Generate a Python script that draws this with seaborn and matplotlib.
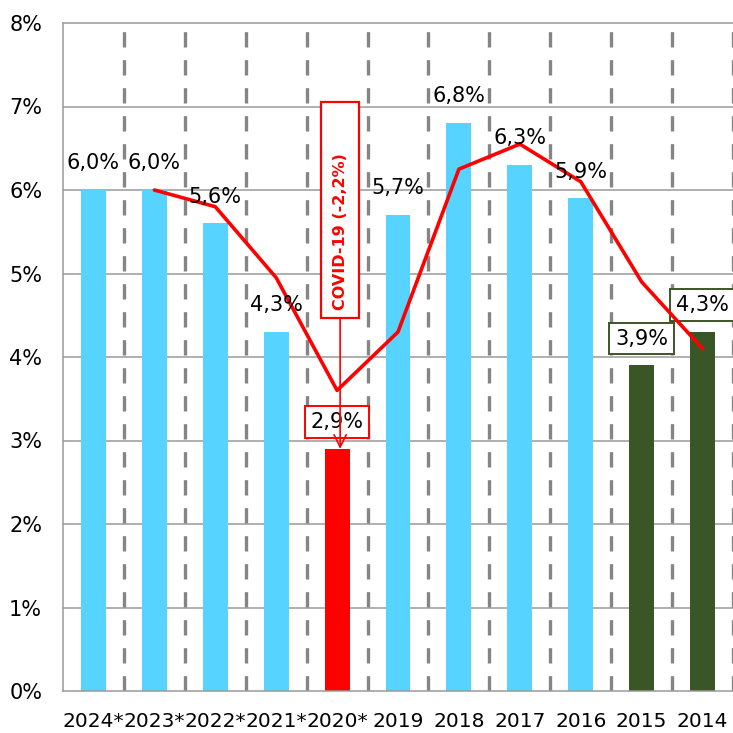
import matplotlib
matplotlib.use("Agg")
import matplotlib.pyplot as plt
import numpy as np
import pandas as pd
import seaborn as sns
from matplotlib.patches import Rectangle

# Values
years = ["2024*", "2023*", "2022*", "2021*", "2020*", "2019", "2018", "2017", "2016", "2015", "2014"]
growth = [6.0, 6.0, 5.6, 4.3, 2.9, 5.7, 6.8, 6.3, 5.9, 3.9, 4.3]
bar_colors = ["#57D3FF"] * 4 + ["#FF0000"] + ["#57D3FF"] * 4 + ["#3B5626"] * 2

line_years = years[1:]
line_vals = [6.0, 5.8, 4.95, 3.6, 4.3, 6.25, 6.55, 6.1, 4.9, 4.1]

covid_text = "COVID-19 (-2,2%)"

sns.set_style("white")
plt.rcParams["font.family"] = ["DejaVu Sans"]
plt.rcParams["text.color"] = "black"
plt.rcParams["xtick.color"] = "black"
plt.rcParams["ytick.color"] = "black"

df = pd.DataFrame({"year": years, "growth": growth})

fig = plt.figure(figsize=(7.33, 7.33), dpi=100)
ax = fig.add_axes([63 / 733, 42 / 733, 670 / 733, 668 / 733])

# horizontal grid + dashed separators between categories
for yv in range(1, 9):
    ax.axhline(yv, color="#9A9A9A", lw=1.1, zorder=0, clip_on=False)
for xv in np.arange(0.5, len(years), 1.0):
    ax.axvline(xv, color="#858585", lw=2.4, ls=(0, (4.6, 3.8)), zorder=0)

sns.barplot(data=df, x="year", y="growth", hue="year", palette=bar_colors,
            width=0.41, saturation=1, legend=False, linewidth=0, ax=ax, zorder=2)

# red trend line
line_x = [years.index(y) for y in line_years]
sns.lineplot(x=line_x, y=line_vals, color="#FF0000", lw=2.6, ax=ax, zorder=5)

# value labels
boxed = {"2020*": "#FF0000", "2015": "#3B5626", "2014": "#3B5626"}
for i, (yr, val) in enumerate(zip(years, growth)):
    txt = f"{val:.1f}%".replace(".", ",")
    if yr in boxed:
        ax.text(i, val + 0.32, txt, ha="center", va="center", fontsize=15, zorder=4,
                bbox=dict(boxstyle="square,pad=0.28", fc="white", ec=boxed[yr], lw=1.4))
    else:
        ax.text(i, val + 0.32, txt, ha="center", va="center", fontsize=15, zorder=6)

# COVID annotation box with arrow
cx = years.index("2020*") + 0.05
ax.add_patch(Rectangle((cx - 0.31, 4.47), 0.62, 2.58, fc="white", ec="#FF0000",
                       lw=1.6, zorder=4))
ax.text(cx, 5.5, covid_text, rotation=90, ha="center", va="center", color="#FF0000",
        fontsize=11.5, fontweight="bold", zorder=5)
ax.annotate("", xy=(cx, 2.9), xytext=(cx, 4.47),
            arrowprops=dict(arrowstyle="->", color="#FF0000", lw=1.2,
                            mutation_scale=22, shrinkA=0, shrinkB=0), zorder=7)

ax.set_xlim(-0.5, len(years) - 0.5)
ax.set_ylim(0, 8)
ax.set_yticks(range(0, 9))
ax.set_yticklabels([f"{v}%" for v in range(0, 9)])
ax.set_xticks(np.arange(-0.5, len(years), 1.0), minor=False)
ax.set_xticklabels([])
ax.set_xticks(range(len(years)), minor=True)
ax.set_xticklabels(years, minor=True)
ax.set_xlabel("")
ax.set_ylabel("")

ax.tick_params(axis="x", which="major", length=7, width=1.1, color="#9A9A9A", direction="out")
ax.tick_params(axis="x", which="minor", length=0, pad=15, labelsize=14.5)
ax.tick_params(axis="y", length=7, width=1.1, color="#9A9A9A", direction="out",
               labelsize=15, pad=8)

for side in ["top", "right"]:
    ax.spines[side].set_visible(False)
for side in ["left", "bottom"]:
    ax.spines[side].set_color("#9A9A9A")
    ax.spines[side].set_linewidth(1.1)

fig.savefig("out.png", dpi=100)
